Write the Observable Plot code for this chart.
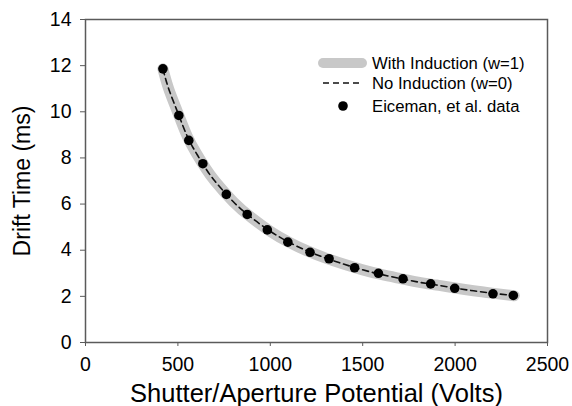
<!DOCTYPE html>
<html>
<head>
<meta charset="utf-8">
<script src="https://cdn.jsdelivr.net/npm/d3@7"></script>
<script src="https://cdn.jsdelivr.net/npm/@observablehq/plot@0.6"></script>
<style>
  html, body { margin: 0; padding: 0; background: #fff; }
  #chart svg { display: block; font-family: "Liberation Sans", Arial, Helvetica, sans-serif; }
</style>
</head>
<body>
<div id="chart"></div>
<script>
// Eiceman et al. measured data
const dataVolts = [419, 505, 559, 635, 762, 875, 984, 1095, 1215, 1318, 1456, 1585, 1718, 1868, 1998, 2205, 2315];
const dataTime  = [11.86, 9.84, 8.76, 7.75, 6.42, 5.55, 4.88, 4.35, 3.91, 3.63, 3.24, 3.00, 2.76, 2.54, 2.35, 2.11, 2.04];

// model curves (both curves overlap)
const curveVolts = [419, 450, 500, 550, 600, 650, 700, 800, 900, 1000, 1100, 1200, 1300, 1400, 1500, 1600, 1700, 1800, 1900, 2000, 2100, 2200, 2320];
const withInduction = [11.86, 11.0, 9.95, 8.95, 8.2, 7.55, 7.0, 6.1, 5.4, 4.82, 4.35, 3.97, 3.66, 3.39, 3.15, 2.95, 2.78, 2.62, 2.49, 2.36, 2.24, 2.14, 2.03];
const noInduction   = [11.86, 11.0, 9.95, 8.95, 8.2, 7.55, 7.0, 6.1, 5.4, 4.82, 4.35, 3.97, 3.66, 3.39, 3.15, 2.95, 2.78, 2.62, 2.49, 2.36, 2.24, 2.14, 2.03];

const xTicks = [0, 500, 1000, 1500, 2000, 2500];
const yTicks = [0, 2, 4, 6, 8, 10, 12, 14];
const xTitle = "Shutter/Aperture Potential (Volts)";
const yTitle = "Drift Time (ms)";
const legendLabels = ["With Induction (w=1)", "No Induction (w=0)", "Eiceman, et al. data"];

const points = dataVolts.map((v, i) => ({v, t: dataTime[i]}));
const curveW = curveVolts.map((v, i) => ({v, t: withInduction[i]}));
const curveN = curveVolts.map((v, i) => ({v, t: noInduction[i]}));

const axisColor = "#5a5a5a";

const plot = Plot.plot({
  width: 572,
  height: 406,
  marginLeft: 85,
  marginRight: 25,
  marginTop: 19,
  marginBottom: 64,
  x: {domain: [0, 2500]},
  y: {domain: [0, 14]},
  marks: [
    Plot.line(curveW, {x: "v", y: "t", curve: "natural", stroke: "#c8c8c8", strokeWidth: 11, strokeLinecap: "round"}),
    Plot.line(curveN, {x: "v", y: "t", curve: "natural", stroke: "#111", strokeWidth: 1.6, strokeDasharray: "6,4"}),
    Plot.dot(points, {x: "v", y: "t", r: 4.8, fill: "#000", stroke: "none"}),
    Plot.frame({stroke: axisColor, strokeWidth: 1.5}),
    Plot.axisX({ticks: xTicks, tickSize: 4, tickPadding: 11, fontSize: 19.5, stroke: axisColor, color: "#000", label: null, tickFormat: d => String(d)}),
    Plot.axisY({ticks: yTicks, tickSize: 5, tickPadding: 9, fontSize: 19.5, stroke: axisColor, color: "#000", label: null, tickFormat: d => String(d)}),
    Plot.text([xTitle], {text: d => d, frameAnchor: "bottom", lineAnchor: "middle", textAnchor: "middle", dy: 51, fontSize: 25.5, fill: "#000"}),
    Plot.text([yTitle], {text: d => d, frameAnchor: "left", lineAnchor: "middle", textAnchor: "middle", dx: -63, rotate: -90, fontSize: 23, fill: "#000"})
  ]
});

// legend
const svg = d3.select(plot);
const lg = svg.append("g").attr("class", "legend").attr("text-anchor", "start");
lg.append("line").attr("x1", 323).attr("x2", 362).attr("y1", 63).attr("y2", 63)
  .attr("stroke", "#c8c8c8").attr("stroke-width", 10).attr("stroke-linecap", "round");
lg.append("line").attr("x1", 323).attr("x2", 363).attr("y1", 83).attr("y2", 83)
  .attr("stroke", "#111").attr("stroke-width", 1.6).attr("stroke-dasharray", "6,4");
lg.append("circle").attr("cx", 343).attr("cy", 106).attr("r", 4.8).attr("fill", "#000");
legendLabels.forEach((s, i) => {
  lg.append("text").attr("x", 372).attr("y", [63, 83, 106][i]).attr("dy", "0.35em")
    .attr("text-anchor", "start").attr("font-size", 16.7).attr("fill", "#000").text(s);
});

document.getElementById("chart").appendChild(plot);
</script>
</body>
</html>
